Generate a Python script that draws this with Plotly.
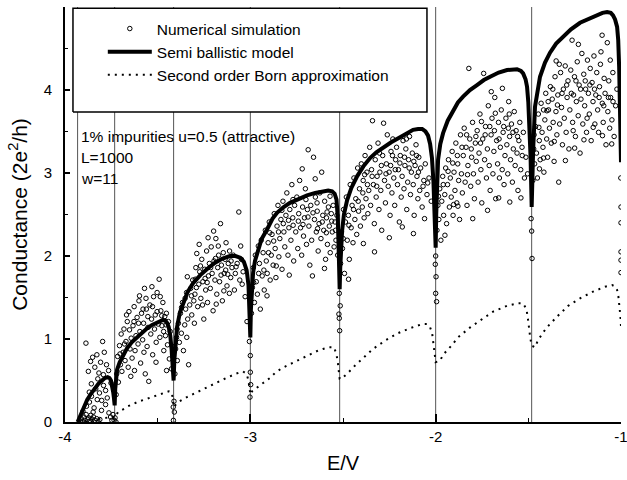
import plotly.graph_objects as go

# ---------------- data ----------------
# subband thresholds (E/V) for w=11
thresholds = [-3.932, -3.732, -3.414, -3.0, -2.518, -2.0, -1.482]

# Semi ballistic model
sb_E = [
    -3.932, -3.925, -3.915, -3.90, -3.88, -3.86, -3.84, -3.82, -3.80, -3.785, -3.77, -3.76, -3.752, -3.745, -3.74, -3.736, -3.732,
    -3.729, -3.725, -3.719, -3.705, -3.69, -3.665, -3.64, -3.611, -3.585, -3.557, -3.53, -3.503, -3.485, -3.471, -3.458, -3.448, -3.44, -3.432, -3.425, -3.42, -3.414,
    -3.41, -3.405, -3.395, -3.38, -3.36, -3.34, -3.31, -3.27, -3.23, -3.19, -3.15, -3.11, -3.08, -3.055, -3.035, -3.02, -3.01, -3.005, -3.0,
    -2.997, -2.992, -2.985, -2.975, -2.96, -2.94, -2.91, -2.88, -2.856, -2.82, -2.786, -2.74, -2.694, -2.65, -2.608, -2.58, -2.559, -2.545, -2.535, -2.528, -2.523, -2.518,
    -2.515, -2.51, -2.505, -2.495, -2.478, -2.455, -2.424, -2.39, -2.354, -2.32, -2.284, -2.24, -2.192, -2.155, -2.122, -2.095, -2.073, -2.055, -2.041, -2.03, -2.02, -2.012, -2.006, -2.0,
    -1.997, -1.993, -1.987, -1.975, -1.96, -1.935, -1.906, -1.88, -1.852, -1.815, -1.777, -1.74, -1.706, -1.66, -1.615, -1.585, -1.561, -1.54, -1.528, -1.515, -1.507, -1.5, -1.494, -1.488, -1.482,
    -1.479, -1.474, -1.464, -1.45, -1.437, -1.41, -1.383, -1.35, -1.312, -1.27, -1.221, -1.175, -1.129, -1.1, -1.075, -1.055, -1.043, -1.032, -1.021, -1.015, -1.01, -1.005, -1.0,
]
sb_G = [
    0.0, 0.04, 0.1, 0.18, 0.27, 0.34, 0.41, 0.46, 0.5, 0.53, 0.54, 0.53, 0.5, 0.44, 0.36, 0.29, 0.2,
    0.4, 0.52, 0.63, 0.72, 0.79, 0.89, 0.96, 1.02, 1.08, 1.13, 1.17, 1.2, 1.22, 1.23, 1.22, 1.19, 1.14, 1.04, 0.88, 0.7, 0.5,
    0.75, 0.95, 1.15, 1.32, 1.45, 1.56, 1.67, 1.77, 1.85, 1.92, 1.97, 2.0, 2.0, 1.98, 1.93, 1.83, 1.65, 1.4, 1.02,
    1.35, 1.6, 1.8, 1.94, 2.06, 2.2, 2.32, 2.45, 2.52, 2.59, 2.64, 2.69, 2.73, 2.76, 2.78, 2.79, 2.78, 2.75, 2.68, 2.45, 2.05, 1.6,
    1.85, 2.1, 2.3, 2.5, 2.67, 2.82, 2.96, 3.08, 3.18, 3.25, 3.31, 3.37, 3.43, 3.48, 3.52, 3.53, 3.53, 3.5, 3.45, 3.35, 3.18, 2.9, 2.5, 2.1,
    2.5, 2.85, 3.16, 3.35, 3.48, 3.63, 3.76, 3.85, 3.92, 4.0, 4.06, 4.12, 4.16, 4.21, 4.24, 4.25, 4.25, 4.23, 4.2, 4.13, 4.04, 3.85, 3.6, 3.2, 2.59,
    2.95, 3.28, 3.8, 4.02, 4.16, 4.33, 4.45, 4.56, 4.64, 4.73, 4.81, 4.86, 4.9, 4.93, 4.94, 4.93, 4.9, 4.85, 4.76, 4.6, 4.28, 3.67, 3.13,
]

# Second order Born approximation
born_E = [
    -3.932, -3.9, -3.87, -3.84, -3.81, -3.78, -3.75, -3.732,
    -3.714, -3.68, -3.66, -3.63, -3.6, -3.57, -3.53, -3.5, -3.47, -3.44, -3.425, -3.418, -3.414,
    -3.39, -3.342, -3.27, -3.2, -3.13, -3.08, -3.04, -3.02, -3.01, -3.005, -3.0,
    -2.99, -2.964, -2.931, -2.894, -2.867, -2.829, -2.802, -2.77, -2.732, -2.705, -2.667, -2.635, -2.608, -2.575, -2.548, -2.535, -2.528, -2.522, -2.518,
    -2.51, -2.478, -2.435, -2.397, -2.338, -2.273, -2.203, -2.138, -2.073, -2.045, -2.03, -2.019, -2.012, -2.005, -2.0,
    -1.976, -1.96, -1.911, -1.879, -1.814, -1.75, -1.69, -1.615, -1.555, -1.528, -1.51, -1.502, -1.496, -1.49, -1.482,
    -1.464, -1.447, -1.404, -1.345, -1.285, -1.221, -1.151, -1.086, -1.048, -1.03, -1.021, -1.014, -1.008, -1.003, -1.0,
]
born_G = [
    0.0, 0.01, 0.02, 0.03, 0.04, 0.05, 0.06, 0.05,
    0.12, 0.16, 0.19, 0.22, 0.25, 0.27, 0.3, 0.33, 0.35, 0.37, 0.36, 0.28, 0.18,
    0.24, 0.3, 0.38, 0.46, 0.53, 0.58, 0.61, 0.58, 0.5, 0.42, 0.33,
    0.37, 0.41, 0.47, 0.53, 0.59, 0.65, 0.68, 0.71, 0.76, 0.79, 0.83, 0.86, 0.88, 0.9, 0.9, 0.81, 0.72, 0.6, 0.52,
    0.52, 0.58, 0.68, 0.76, 0.88, 0.98, 1.07, 1.13, 1.18, 1.18, 1.14, 1.07, 0.96, 0.82, 0.72,
    0.74, 0.81, 0.93, 1.02, 1.14, 1.24, 1.33, 1.40, 1.43, 1.43, 1.36, 1.24, 1.11, 1.02, 0.92,
    0.9, 0.99, 1.13, 1.27, 1.40, 1.49, 1.57, 1.63, 1.65, 1.63, 1.59, 1.51, 1.4, 1.27, 1.15,
]

# Numerical simulation points (E/V, G), per subband
sim_1 = [(-3.918,0.01),(-3.912,0.04),(-3.905,0.0),(-3.897,0.06),(-3.893,0.02),(-3.886,0.09),(-3.879,0.03),(-3.872,0.05),
         (-3.866,0.01),(-3.861,0.08),(-3.853,0.03),(-3.846,0.06),(-3.838,0.02),(-3.829,0.04),(-3.821,0.0),(-3.812,0.03),
         (-3.903,0.13),(-3.884,0.19),(-3.868,0.24),(-3.857,0.31),(-3.843,0.17),(-3.834,0.4),(-3.826,0.27),(-3.814,0.35),
         (-3.803,0.14),(-3.792,0.44),(-3.781,0.21),(-3.772,0.29),(-3.763,0.11),(-3.754,0.06),(-3.747,0.02),(-3.741,0.09),
         (-3.874,0.61),(-3.862,0.73),(-3.851,0.78),(-3.839,0.66),(-3.828,0.81),(-3.817,0.59),(-3.808,0.72),(-3.797,0.97),
         (-3.788,0.84),(-3.776,0.69),(-3.887,0.95),(-3.765,0.62),(-3.752,0.47),(-3.823,0.52),(-3.793,0.57),(-3.858,0.46),
         (-3.848,0.12),(-3.869,0.36),(-3.781,0.38),(-3.802,0.26)]
sim_2 = [(-3.724,0.33),(-3.721,0.58),(-3.716,0.79),(-3.712,0.48),(-3.706,0.92),(-3.701,0.69),(-3.697,1.06),(-3.693,0.61),
         (-3.686,0.84),(-3.682,1.12),(-3.676,0.74),(-3.671,0.97),(-3.664,1.21),(-3.659,0.66),(-3.655,1.33),(-3.649,0.88),
         (-3.643,1.01),(-3.638,0.77),(-3.633,1.16),(-3.627,1.39),(-3.622,0.86),(-3.617,1.04),(-3.611,1.26),(-3.606,0.94),
         (-3.601,1.46),(-3.596,1.09),(-3.592,0.71),(-3.587,1.31),(-3.581,0.99),(-3.576,1.19),(-3.571,1.61),(-3.567,0.58),
         (-3.561,1.36),(-3.557,0.91),(-3.552,1.14),(-3.548,0.49),(-3.542,1.41),(-3.537,1.06),(-3.533,1.24),(-3.527,0.81),
         (-3.522,1.51),(-3.517,1.12),(-3.513,1.29),(-3.508,0.96),(-3.503,1.56),(-3.497,1.18),(-3.492,1.72),(-3.488,1.02),
         (-3.483,1.34),(-3.477,1.16),(-3.472,1.44),(-3.467,0.86),(-3.462,1.27),(-3.458,1.04),(-3.453,1.31),(-3.447,0.93),
         (-3.442,1.21),(-3.437,0.76),(-3.432,1.09),(-3.426,0.64),(-3.421,0.91),(-3.668,1.29),(-3.645,0.55),(-3.598,1.52),
         (-3.574,0.84),(-3.531,1.63),(-3.509,0.72),(-3.486,1.51),(-3.468,1.09),(-3.452,0.62),
         (-3.703,0.82),(-3.679,0.94),(-3.652,1.11),(-3.628,1.21),(-3.603,1.19),(-3.579,1.36),(-3.553,1.27),(-3.528,1.39),
         (-3.503,1.33),(-3.478,1.28),(-3.455,1.17),(-3.625,0.62),(-3.563,1.49)]
sim_3 = [(-3.407,0.58),(-3.403,0.88),(-3.398,1.02),(-3.394,0.74),(-3.388,1.19),(-3.383,0.96),(-3.377,1.31),(-3.372,1.07),
         (-3.366,1.44),(-3.361,0.86),(-3.354,1.17),(-3.349,1.36),(-3.344,1.56),(-3.338,1.24),(-3.333,0.69),(-3.327,1.41),
         (-3.322,1.61),(-3.316,1.29),(-3.311,1.71),(-3.305,1.46),(-3.299,1.54),(-3.294,1.86),(-3.289,2.03),(-3.284,1.39),
         (-3.278,1.66),(-3.273,1.81),(-3.267,1.49),(-3.262,1.96),(-3.256,1.69),(-3.251,1.24),(-3.246,1.84),(-3.241,1.59),
         (-3.236,2.06),(-3.231,1.44),(-3.226,1.76),(-3.221,1.91),(-3.216,1.61),(-3.211,2.11),(-3.206,1.79),(-3.201,1.34),
         (-3.196,1.94),(-3.191,1.71),(-3.186,2.21),(-3.181,1.54),(-3.176,1.86),(-3.171,2.01),(-3.166,1.69),(-3.161,2.39),
         (-3.156,1.89),(-3.151,1.46),(-3.146,2.04),(-3.141,1.79),(-3.136,1.96),(-3.131,2.16),(-3.126,1.64),(-3.119,1.91),
         (-3.112,2.06),(-3.106,1.74),(-3.099,1.86),(-3.092,2.01),(-3.086,1.59),(-3.062,2.53),(-3.071,1.91),(-3.057,1.71),
         (-3.048,1.96),(-3.039,1.81),(-3.028,1.51),(-3.018,1.21),(-3.343,1.02),(-3.302,1.19),(-3.258,1.41),(-3.228,2.22),
         (-3.184,1.42),(-3.143,1.58),(-3.113,1.55),(-3.081,1.79),(-3.052,2.12),(-3.34,1.75),(-3.276,2.14),(-3.198,2.3),
         (-3.395,1.12),(-3.371,1.38),(-3.352,1.49),(-3.318,1.52),(-3.297,1.72),(-3.269,1.88),(-3.244,1.73),(-3.214,1.86),
         (-3.188,1.97),(-3.158,1.77),(-3.133,1.83),(-3.104,1.94),(-3.077,1.87),(-3.044,1.66),(-3.291,1.62),(-3.233,1.68),
         (-3.173,2.12),(-3.122,1.78)]
sim_4 = [(-2.994,1.31),(-2.989,1.62),(-2.984,1.86),(-2.978,1.44),(-2.973,2.01),(-2.968,1.69),(-2.962,1.54),(-2.957,2.12),
         (-2.951,1.91),(-2.946,1.36),(-2.941,2.19),(-2.936,1.76),(-2.931,2.04),(-2.925,1.59),(-2.919,2.31),(-2.914,1.94),
         (-2.909,1.79),(-2.904,2.16),(-2.898,2.41),(-2.893,1.71),(-2.887,2.01),(-2.883,2.26),(-2.877,1.89),(-2.871,2.51),
         (-2.866,2.09),(-2.862,1.74),(-2.856,2.36),(-2.851,2.61),(-2.846,1.99),(-2.841,2.21),(-2.835,2.44),(-2.829,1.84),
         (-2.824,2.66),(-2.819,2.29),(-2.814,2.11),(-2.808,2.49),(-2.803,2.76),(-2.797,2.01),(-2.792,2.34),(-2.787,2.56),
         (-2.781,2.19),(-2.776,2.86),(-2.771,2.46),(-2.766,1.94),(-2.761,2.61),(-2.755,2.29),(-2.749,2.71),(-2.744,2.09),
         (-2.739,2.51),(-2.734,2.91),(-2.729,2.34),(-2.723,2.01),(-2.718,2.59),(-2.713,2.24),(-2.708,2.46),(-2.703,2.81),
         (-2.697,2.14),(-2.692,2.56),(-2.688,3.28),(-2.684,2.36),(-2.679,1.89),(-2.674,2.61),(-2.669,2.19),(-2.665,1.76),
         (-2.659,3.19),(-2.654,2.44),(-2.649,2.71),(-2.644,2.29),(-2.639,2.54),(-2.634,2.06),(-2.629,2.39),(-2.625,2.76),
         (-2.619,2.21),(-2.615,3.01),(-2.609,2.49),(-2.604,2.31),(-2.599,2.66),(-2.594,1.96),(-2.589,2.46),(-2.584,2.14),
         (-2.579,2.59),(-2.574,2.36),(-2.569,2.04),(-2.563,2.51),(-2.558,2.29),(-2.553,2.61),(-2.548,2.11),(-2.543,2.41),
         (-2.538,2.19),(-2.533,2.49),(-2.529,2.01),(-2.91,1.52),(-2.86,1.88),(-2.79,1.77),(-2.72,3.05),(-2.65,2.93),
         (-2.6,1.85),(-2.57,2.72),
         (-2.982,1.68),(-2.955,1.79),(-2.927,1.83),(-2.902,2.04),(-2.874,2.18),(-2.848,2.29),(-2.822,2.39),(-2.794,2.43),
         (-2.769,2.37),(-2.741,2.42),(-2.716,2.38),(-2.689,2.47),(-2.662,2.52),(-2.637,2.33),(-2.612,2.41),(-2.586,2.53),
         (-2.561,2.42),(-2.54,2.31),(-2.895,2.28),(-2.83,2.55),(-2.77,2.68),(-2.7,2.68),(-2.64,2.64),(-2.59,2.28)]
sim_5 = [(-2.513,1.91),(-2.508,2.29),(-2.503,2.09),(-2.497,2.56),(-2.492,1.79),(-2.487,2.41),(-2.482,2.71),(-2.477,2.19),
         (-2.471,2.49),(-2.466,1.96),(-2.461,2.86),(-2.456,2.34),(-2.451,2.61),(-2.446,2.16),(-2.441,2.94),(-2.436,2.44),
         (-2.431,2.69),(-2.426,2.26),(-2.421,3.06),(-2.416,2.54),(-2.411,2.81),(-2.406,2.36),(-2.401,3.11),(-2.396,2.59),
         (-2.391,2.91),(-2.386,2.46),(-2.381,3.21),(-2.376,2.69),(-2.371,3.01),(-2.366,2.51),(-2.361,2.79),(-2.356,3.31),
         (-2.351,2.61),(-2.346,3.04),(-2.341,3.63),(-2.336,2.86),(-2.331,2.39),(-2.326,3.16),(-2.321,2.71),(-2.316,2.96),
         (-2.311,3.36),(-2.306,2.56),(-2.301,3.01),(-2.296,2.79),(-2.291,2.31),(-2.286,3.21),(-2.281,3.6),(-2.276,2.91),
         (-2.271,2.64),(-2.266,3.11),(-2.261,3.46),(-2.256,2.84),(-2.251,3.01),(-2.246,2.49),(-2.241,3.26),(-2.236,2.76),
         (-2.231,3.41),(-2.226,2.94),(-2.221,2.61),(-2.216,3.16),(-2.211,3.31),(-2.206,2.86),(-2.201,3.04),(-2.196,2.41),
         (-2.191,3.21),(-2.186,2.71),(-2.181,2.96),(-2.176,3.39),(-2.171,2.81),(-2.166,3.09),(-2.161,3.29),(-2.156,2.56),
         (-2.151,2.89),(-2.146,3.16),(-2.141,3.44),(-2.136,2.74),(-2.131,3.01),(-2.126,3.24),(-2.121,2.86),(-2.116,2.49),
         (-2.111,3.09),(-2.106,3.34),(-2.101,2.96),(-2.096,2.69),(-2.091,3.19),(-2.086,2.79),(-2.081,3.06),(-2.073,2.59),
         (-2.064,2.91),(-2.056,3.11),(-2.047,2.74),(-2.036,2.94),(-2.024,2.66),(-2.47,1.72),(-2.39,2.15),(-2.33,2.05),
         (-2.25,2.22),(-2.18,2.35),(-2.12,2.27),(-2.06,2.45),
         (-2.499,2.21),(-2.468,2.37),(-2.443,2.56),(-2.418,2.66),(-2.393,2.76),(-2.368,2.86),(-2.343,2.96),(-2.318,2.84),
         (-2.293,3.09),(-2.268,2.99),(-2.243,3.09),(-2.218,3.04),(-2.193,3.12),(-2.168,3.19),(-2.143,3.06),(-2.118,3.14),
         (-2.093,3.01),(-2.068,2.84),(-2.043,2.88),(-2.383,2.98),(-2.303,3.24),(-2.233,3.21),(-2.158,3.41),(-2.103,3.21)]
sim_6 = [(-1.993,2.31),(-1.988,2.61),(-1.983,2.44),(-1.978,2.81),(-1.972,2.19),(-1.967,2.66),(-1.962,2.96),(-1.957,2.49),
         (-1.951,2.74),(-1.946,3.06),(-1.941,2.39),(-1.936,2.86),(-1.931,3.16),(-1.926,2.59),(-1.921,2.94),(-1.916,2.71),
         (-1.911,3.26),(-1.906,2.49),(-1.901,3.01),(-1.896,2.79),(-1.891,3.36),(-1.886,2.64),(-1.881,3.11),(-1.876,2.91),
         (-1.871,2.44),(-1.866,3.46),(-1.861,2.99),(-1.856,2.76),(-1.851,3.21),(-1.846,3.54),(-1.841,2.89),(-1.836,3.31),
         (-1.831,2.61),(-1.826,3.09),(-1.821,4.26),(-1.816,3.41),(-1.811,2.84),(-1.806,3.19),(-1.801,3.61),(-1.796,2.99),
         (-1.791,2.69),(-1.786,3.36),(-1.781,3.14),(-1.776,3.51),(-1.771,2.89),(-1.766,3.24),(-1.761,3.71),(-1.756,3.04),
         (-1.751,2.64),(-1.746,3.41),(-1.741,4.2),(-1.736,3.16),(-1.731,3.56),(-1.726,2.94),(-1.721,3.29),(-1.716,3.81),
         (-1.711,3.09),(-1.706,2.79),(-1.701,3.46),(-1.696,3.66),(-1.691,2.99),(-1.686,3.26),(-1.681,3.91),(-1.676,2.69),
         (-1.671,3.39),(-1.666,3.11),(-1.661,3.61),(-1.656,2.94),(-1.651,3.31),(-1.646,3.76),(-1.641,3.04),(-1.636,3.49),
         (-1.631,2.86),(-1.626,3.21),(-1.621,3.66),(-1.616,3.34),(-1.611,2.99),(-1.606,3.86),(-1.601,3.44),(-1.596,3.16),
         (-1.591,3.59),(-1.586,2.89),(-1.581,3.29),(-1.576,3.74),(-1.571,3.09),(-1.566,3.51),(-1.561,3.24),(-1.556,2.79),
         (-1.551,3.39),(-1.546,3.61),(-1.541,3.04),(-1.534,3.31),(-1.527,3.49),(-1.521,2.94),(-1.513,3.19),(-1.504,2.99),
         (-1.95,2.25),(-1.88,2.6),(-1.8,2.45),(-1.72,2.55),(-1.66,2.7),(-1.6,2.65),(-1.54,2.7),(-1.7,3.98),(-1.64,4.02),
         (-1.985,2.72),(-1.959,2.86),(-1.933,3.02),(-1.908,3.12),(-1.883,3.21),(-1.858,3.31),(-1.833,3.46),(-1.808,3.29),
         (-1.783,3.44),(-1.758,3.36),(-1.733,3.46),(-1.708,3.56),(-1.683,3.51),(-1.658,3.41),(-1.633,3.56),(-1.608,3.54),
         (-1.583,3.49),(-1.558,3.44),(-1.533,3.21),(-1.903,2.62),(-1.828,2.98),(-1.753,3.62),(-1.678,3.72),(-1.603,3.71)]
sim_7 = [(-1.476,2.91),(-1.471,3.29),(-1.466,3.11),(-1.461,3.56),(-1.456,3.24),(-1.451,2.94),(-1.446,3.71),(-1.441,3.39),
         (-1.436,3.16),(-1.431,3.84),(-1.426,3.49),(-1.421,3.31),(-1.416,3.01),(-1.411,3.64),(-1.406,3.96),(-1.401,3.41),
         (-1.396,3.19),(-1.391,3.76),(-1.386,3.54),(-1.381,4.04),(-1.376,3.36),(-1.371,3.89),(-1.366,3.61),(-1.361,3.14),
         (-1.356,4.16),(-1.351,3.74),(-1.346,3.46),(-1.341,3.94),(-1.336,2.89),(-1.331,3.59),(-1.326,4.21),(-1.321,3.79),
         (-1.316,3.34),(-1.311,4.01),(-1.306,3.66),(-1.301,4.29),(-1.296,3.49),(-1.291,3.91),(-1.286,4.11),(-1.281,3.29),
         (-1.276,3.76),(-1.271,4.24),(-1.264,4.6),(-1.261,3.61),(-1.256,3.94),(-1.251,4.16),(-1.246,3.44),(-1.241,3.86),
         (-1.236,4.34),(-1.231,3.69),(-1.226,4.06),(-1.221,3.24),(-1.216,3.89),(-1.211,4.44),(-1.206,3.59),(-1.201,4.19),
         (-1.196,3.81),(-1.191,4.01),(-1.186,3.49),(-1.181,4.36),(-1.176,3.96),(-1.171,3.71),(-1.166,4.26),(-1.161,3.39),
         (-1.156,4.09),(-1.151,3.86),(-1.146,4.41),(-1.141,3.59),(-1.136,3.94),(-1.131,4.21),(-1.126,3.76),(-1.121,3.49),
         (-1.116,4.04),(-1.111,4.31),(-1.102,4.66),(-1.101,3.84),(-1.096,3.61),(-1.091,4.14),(-1.086,3.96),(-1.081,3.34),
         (-1.074,4.57),(-1.071,3.74),(-1.066,4.11),(-1.061,3.54),(-1.056,3.91),(-1.049,3.64),(-1.044,4.21),(-1.037,3.44),
         (-1.029,3.81),(-1.022,4.01),(-1.44,3.05),(-1.4,3.75),(-1.36,3.38),(-1.3,3.15),(-1.25,3.3),(-1.2,3.4),(-1.15,3.55),
         (-1.1,3.45),(-1.05,3.35),(-1.35,4.35),(-1.23,4.55),
         (-1.469,3.46),(-1.443,3.55),(-1.418,3.76),(-1.393,3.86),(-1.368,4.01),(-1.343,3.82),(-1.318,3.96),(-1.293,4.06),
         (-1.268,3.96),(-1.243,4.11),(-1.218,4.01),(-1.193,4.11),(-1.168,4.06),(-1.143,4.01),(-1.118,3.91),(-1.093,3.81),
         (-1.068,3.91),(-1.043,3.86),(-1.418,3.18),(-1.333,4.31),(-1.258,3.51),(-1.183,3.66),(-1.108,4.46),(-1.058,4.36)]
sim_edges = [(-3.735,0.02),(-3.73,0.05),(-3.725,0.0),(-3.415,0.02),(-3.41,0.12),(-3.412,0.25),(-3.416,0.18),
             (-3.005,0.97),(-3.0,0.8),(-3.0,0.6),(-2.998,0.45),(-3.002,0.3),(-2.52,1.55),(-2.515,1.4),(-2.52,1.25),
             (-2.518,1.1),(-2.522,1.3),(-2.0,2.0),(-2.002,1.9),(-2.0,1.55),(-1.998,1.75),(-1.995,1.45),(-1.482,2.3),
             (-1.48,1.97),(-1.485,2.45),(-1.001,2.94),(-1.0,2.59),(-1.0,2.4),(-1.0,2.05),(-1.0,1.95),(-1.0,1.8)]

x_ticks = [-4, -3, -2, -1]
x_tick_labels = ["-4", "-3", "-2", "-1"]
y_ticks = [0, 1, 2, 3, 4, 5]
y_tick_labels = ["0", "1", "2", "3", "4", "5"]
info_lines = ["1% impurities u=0.5 (attractive)", "L=1000", "w=11"]

# ---------------- figure ----------------
FONT = "Arial, Liberation Sans, Helvetica, sans-serif"
sim_all = sim_1 + sim_2 + sim_3 + sim_4 + sim_5 + sim_6 + sim_7 + sim_edges
sim_E = [p[0] for p in sim_all]
sim_G = [p[1] for p in sim_all]

vx, vy = [], []
for t in thresholds:
    vx += [t, t, None]
    vy += [0, 5, None]

# legend frame (decoration), in axis units
FRAME_X0, FRAME_X1, FRAME_Y0, FRAME_Y1 = -3.957, -2.047, 3.735, 4.985

fig = go.Figure()
fig.add_trace(go.Scatter(x=vx, y=vy, mode="lines", line=dict(color="#555555", width=1),
                         showlegend=False, hoverinfo="skip"))
fig.add_trace(go.Scatter(x=[FRAME_X0, FRAME_X1, FRAME_X1, FRAME_X0, FRAME_X0],
                         y=[FRAME_Y0, FRAME_Y0, FRAME_Y1, FRAME_Y1, FRAME_Y0],
                         mode="lines", fill="toself", fillcolor="white",
                         line=dict(color="black", width=1.5), showlegend=False, hoverinfo="skip"))
fig.add_trace(go.Scatter(x=sim_E, y=sim_G, mode="markers", name="Numerical simulation",
                         marker=dict(symbol="circle-open", size=4.5, color="black", line=dict(width=1, color="black")),
                         legendrank=1))
fig.add_trace(go.Scatter(x=born_E, y=born_G, mode="lines", name="Second order Born approximation",
                         line=dict(color="black", width=2, dash="2px,5px"), legendrank=3))
fig.add_trace(go.Scatter(x=sb_E, y=sb_G, mode="lines", name="Semi ballistic model",
                         line=dict(color="black", width=4), legendrank=2))

annotations = []
for i, txt in enumerate(info_lines):
    annotations.append(dict(text=txt, xref="paper", yref="paper", x=0.025, y=0.687 - i * 0.0506,
                            xanchor="left", yanchor="middle", showarrow=False,
                            font=dict(family=FONT, size=15.5, color="black")))

fig.update_layout(
    width=627, height=480, autosize=False,
    margin=dict(l=65, r=6, t=7, b=58),
    plot_bgcolor="white", paper_bgcolor="white",
    font=dict(family=FONT, color="black"),
    showlegend=True,
    annotations=annotations,
    legend=dict(x=0.068, y=0.988, xanchor="left", yanchor="top", bgcolor="rgba(0,0,0,0)",
                borderwidth=0, itemwidth=44, font=dict(family=FONT, size=15.5, color="black")),
    xaxis=dict(range=[-4, -1], tickvals=x_ticks, ticktext=x_tick_labels, showgrid=False, zeroline=False,
               showline=True, linecolor="black", linewidth=2, ticks="inside", ticklen=8, tickwidth=1.5,
               tickcolor="black", tickfont=dict(family=FONT, size=15), ticklabeloverflow="allow",
               automargin=False,
               minor=dict(tickvals=[-3.5, -2.5, -1.5], ticks="inside", ticklen=4, tickwidth=1.2, tickcolor="black"),
               title=dict(text="E/V", font=dict(family=FONT, size=20), standoff=12)),
    yaxis=dict(range=[0, 5], tickvals=y_ticks, ticktext=y_tick_labels, showgrid=False, zeroline=False,
               showline=True, linecolor="black", linewidth=2, ticks="inside", ticklen=5, tickwidth=1.5,
               tickcolor="black", tickfont=dict(family=FONT, size=15), ticklabelstandoff=8,
               automargin=False,
               minor=dict(tickvals=[0.5, 1.5, 2.5, 3.5, 4.5], ticks="inside", ticklen=3, tickwidth=1.2, tickcolor="black"),
               title=dict(text="Conductance (2e<sup>2</sup>/h)", font=dict(family=FONT, size=21), standoff=10)),
)

fig.write_html("out.html")
